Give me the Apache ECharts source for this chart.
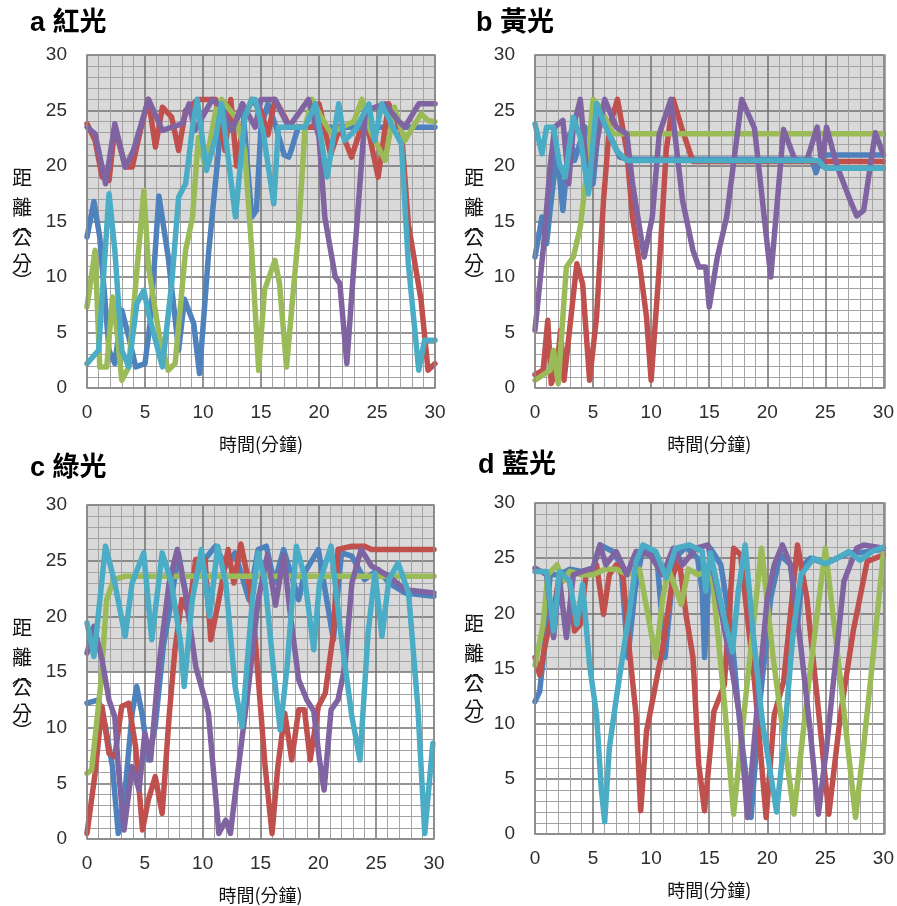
<!DOCTYPE html>
<html>
<head>
<meta charset="utf-8">
<script src="https://cdn.jsdelivr.net/npm/echarts@6/dist/echarts.min.js"></script>
<style>
html,body{margin:0;padding:0;background:#fff;}
#chart{width:897px;height:906px;}
</style>
</head>
<body>
<div id="chart"></div>
<script>
// ---- tick labels ----
const xTicks = [0, 5, 10, 15, 20, 25, 30];
const yTicks = [0, 5, 10, 15, 20, 25, 30];
const seriesNames = ['1', '2', '3', '4', '5'];
const panelTitles = ['a 紅光', 'b 黃光', 'c 綠光', 'd 藍光'];
const xAxisTitle = '時間(分鐘)';
const yAxisTitleChars = ['距', '離', '︵', '公', '分', '︶'];

// ---- panel a (紅光): [minute, distance] ----
const aBlue = [[0,13.6],[0.6,16.8],[1.1,13.6],[1.9,3.4],[2.4,2.2],[3,7],[3.6,4.6],[4.2,1.9],[5,2.2],[5.5,6.4],[6.2,17.3],[7,11.8],[7.9,3.4],[8.4,8],[9.2,5.8],[9.7,1.3],[10.5,12.4],[11.4,22],[12.2,25.6],[12.8,23.8],[13.4,25.6],[14.2,15.4],[14.6,16],[15,23.5],[15.6,25.6],[16.3,23.5],[17,21],[17.4,20.8],[17.6,21.4],[18.2,23.5],[30,23.5]];
const aRed = [[0,23.8],[0.7,22.3],[1.3,19],[1.9,18.7],[2.4,23.5],[3.3,19.9],[3.9,19.9],[4.6,23.2],[5.3,26],[5.9,21.7],[6.5,25.3],[7.3,24.4],[7.9,21.4],[8.5,25],[9.6,26],[11.1,26],[11.9,21.4],[12.4,26],[12.9,20],[13.5,24],[14.2,26],[15,25],[15.6,22.8],[16.2,26],[17,24.5],[17.5,23.5],[19.5,23.5],[20,25.6],[21,21],[21.8,23.5],[22.8,20.8],[23.5,23],[24.3,23],[25.1,19],[26,25.6],[27.1,23.2],[27.7,14.8],[28.8,7.9],[29.4,1.6],[30,2.2]];
const aGreen = [[0,7.3],[0.7,12.4],[1.1,1.9],[1.7,1.9],[2.2,8.2],[2.6,4.9],[3,0.7],[3.6,1.9],[4.2,9.4],[4.9,17.8],[5.3,10.9],[6.2,4.9],[7,1.6],[7.6,2.2],[8.5,12.4],[9.1,15.4],[9.6,22.6],[10.2,19.9],[11.1,25],[11.6,26],[12.8,24.4],[13.6,21.4],[14.2,12.4],[14.8,1.6],[15.3,8.8],[16.2,11.5],[16.6,9.4],[17.2,1.9],[18.2,13.6],[18.8,23.5],[19.4,26],[20.2,24.4],[21,23],[22,23.5],[23,24],[23.7,26],[24.5,23],[25.7,20.5],[26.5,25.3],[27.4,22.3],[28.8,24.7],[29.4,24.1],[30,24]];
const aPurple = [[0,23.5],[0.7,22.9],[1.6,18.4],[2.4,23.8],[3.3,19.9],[4,21.4],[5.3,26],[6.5,23.2],[7.3,23.5],[8.2,23.8],[8.8,25.6],[9.3,23.2],[10.8,26],[11.6,25.3],[12.5,23.2],[13.4,25.6],[14.5,23.5],[15,26],[16.2,26],[17.4,23.5],[19.1,26],[20,22.6],[20.5,15.4],[21.4,10],[21.8,9.4],[22.4,2.2],[23.1,12.4],[24,25],[25.7,25.6],[26.8,24.1],[27.4,23.5],[28.6,25.6],[30,25.6]];
const aCyan = [[0,2.2],[1,3.4],[1.9,17.5],[2.4,12.4],[3,3.4],[3.6,1.9],[4.3,7.6],[4.9,8.8],[5.3,6.7],[6.5,1.9],[7.3,9.4],[7.9,17.2],[8.5,18.4],[9.1,23.5],[9.5,26],[10.3,19.6],[11.1,22.6],[11.6,25.6],[12.8,15.4],[13.6,24.4],[14.2,26],[14.5,26],[15.2,23],[16.1,16.6],[16.5,23.5],[18.8,23.5],[19.7,25.6],[20.7,19],[21.7,25.6],[22.2,22.3],[23.1,23.2],[24.3,25.6],[24.8,22.3],[25.4,25.6],[26.5,23.2],[27.1,22],[27.7,11.2],[28.6,1.6],[29.1,4.3],[30,4.3]];

// ---- panel b (黃光) ----
const bBlue = [[0,11.8],[0.6,15.4],[1,13],[1.3,16],[1.9,21.4],[2.4,16],[3,22.9],[3.4,20.5],[4.3,23.5],[5,18.4],[5.6,25],[6.4,22.9],[7.3,20.8],[8,20.6],[23.8,20.6],[24.2,19.4],[24.7,21],[30,21]];
const bRed = [[0,1.2],[0.7,1.6],[1.1,6.1],[1.4,0.4],[1.9,1.9],[2.2,5.2],[2.5,0.7],[3.6,11.2],[4.1,9.4],[4.7,0.7],[5.3,6.4],[5.9,16.9],[6.4,23.5],[7.1,26],[7.9,21.4],[8.4,15.4],[9,11.2],[9.6,6.4],[10,0.7],[10.7,10.9],[11.3,21.4],[11.9,26],[12.7,23.2],[13.6,20.4],[30,20.4]];
const bGreen = [[0,0.7],[1.3,1.6],[1.6,3.4],[2,0.4],[2.7,10.9],[3.3,11.8],[3.9,14.5],[4.4,19],[5,26],[5.6,25.3],[6.7,22.9],[30,22.9]];
const bPurple = [[0,5.2],[0.7,12.4],[1.3,19.9],[1.7,23.5],[2.4,24.1],[2.9,18.4],[3.3,23.5],[3.9,26],[4.6,17.8],[5.3,22],[6,26],[7,23.5],[7.9,22.9],[8.4,18.4],[9.4,11.8],[10.1,15.4],[10.7,22.9],[11.7,26],[12.7,16.9],[13.6,12.4],[14.1,10.9],[14.7,10.9],[15,7.3],[15.7,11.8],[16.5,15.4],[17.8,26],[18.9,23.4],[20.3,10],[21.4,23.3],[22.4,20.5],[23.4,20.5],[24.3,23.5],[24.7,20],[25.1,23.5],[26,20],[27.1,17],[27.7,15.5],[28.3,16],[29.3,23],[30,21]];
const bCyan = [[0,23.8],[0.6,21.1],[1,23.5],[1.6,23.5],[2.1,20.2],[2.6,19],[3.3,24.4],[3.9,22.6],[4.6,17.5],[5.3,25.6],[6.1,23.5],[7,21.4],[7.9,20.5],[24.4,20.5],[25,19.8],[30,19.8]];

// ---- panel c (綠光) ----
const cBlue = [[0,12.2],[1,12.5],[1.6,10.1],[2.2,6.5],[2.7,0.5],[3.3,4.4],[3.9,11.3],[4.3,13.7],[4.8,11],[5.3,7.1],[5.9,10.1],[6.6,17.3],[7.3,21.5],[7.9,25.7],[8.8,20.6],[9.7,24.5],[11.1,26.3],[12,24.5],[12.8,25.7],[14,21.5],[14.8,26],[15.5,26.3],[16.2,23],[17,26],[18.3,21.5],[18.8,23.9],[20,26],[21.3,17.9],[22,25.7],[22.9,25.4],[24,23.3],[25.2,24.2],[26.1,23],[27.5,22.1],[30,21.8]];
const cRed = [[0,0.5],[0.7,5.9],[1.3,11.9],[1.9,7.7],[2.4,7.4],[3,11.9],[3.6,12.2],[4.2,8.3],[4.8,0.8],[5.3,3.5],[5.9,5.6],[6.5,2.3],[7.1,11],[7.6,17],[8.2,21.5],[8.8,20.3],[9.4,25.1],[10.2,25.1],[10.7,17.9],[11.4,21.5],[12.2,26],[12.7,23],[13.3,26.5],[14,23],[14.5,18.5],[15.4,6.5],[16,0.5],[16.5,6.5],[17.1,11.3],[17.7,7.1],[18.3,11.6],[18.8,11.6],[19.3,7.1],[20,11.9],[20.6,13.1],[21.3,18.5],[21.7,26],[22.9,26.3],[24,26.3],[24.6,26],[30,26]];
const cGreen = [[0,5.9],[0.4,6.2],[1.2,14],[1.7,21.5],[2.3,23.3],[3.3,23.6],[30,23.6]];
const cPurple = [[0,16.7],[0.6,19.1],[1.3,16.1],[1.9,12.5],[2.4,11],[2.7,6.5],[3.2,0.8],[3.9,6.5],[4.5,4.4],[5,9.5],[5.5,7.1],[6.2,15.5],[7.1,23],[7.8,26],[8.5,22.1],[9.4,15.5],[10.2,12.5],[10.5,11.3],[11.4,0.5],[12,1.7],[12.4,0.5],[13.1,6.5],[14,14],[14.8,21.5],[15.6,25.5],[16.3,21],[17,25.5],[17.6,20],[18.3,14.3],[19,12.5],[19.6,11.5],[20.1,7.1],[20.5,4.4],[21.1,11.6],[21.7,12.5],[22.3,15.5],[22.9,23],[23.7,26],[24.6,24.5],[26.1,23.6],[27.5,22.4],[30,22.1]];
const cCyan = [[0,19.4],[0.6,16.4],[1.6,26.3],[2.4,23],[3.3,18.2],[3.9,23],[4.9,25.7],[5.6,17.9],[6.5,25.7],[7.3,23],[8.1,17.6],[8.4,13.7],[9.1,21.5],[9.9,26],[10.6,20],[11.3,26.3],[12,23],[12.8,13.7],[13.4,10.1],[14.3,21.5],[14.8,25.7],[15.4,23],[16.1,15.5],[16.7,9.8],[17.3,15.5],[18.1,26.3],[18.8,23.6],[19.6,17],[20.1,23],[21.1,26.3],[21.9,18.8],[22.9,11],[23.6,7.1],[24.3,18.5],[24.9,23.9],[25.5,18.2],[26.1,23.3],[26.9,24.8],[27.8,22.1],[28.6,11.9],[29.2,0.5],[29.9,8.6]];

// ---- panel d (藍光) ----
const dBlue = [[0,12],[0.4,12.9],[0.9,17.8],[1.3,23.5],[2.1,23.5],[3,24],[4,23.8],[5,24.1],[5.6,26.2],[6.7,25.6],[7.4,24.4],[8,16],[8.6,22],[9.3,26],[10.5,25],[11.2,16],[12,25],[13,26],[14,25],[14.4,22],[14.6,16],[15.1,25.9],[16,24.4],[16.9,18.4],[17.7,9.3],[18.6,1.5],[19.4,12.3],[20.3,21.4],[21.1,25.3],[22,24.4],[22.6,19],[23.1,24.4],[23.7,25],[25,24.5],[26,25],[27,25.5],[28,25.5],[30,25.8]];
const dRed = [[0,16],[0.4,14.4],[1,17.8],[1.6,20.2],[2.1,23.5],[3,22.9],[3.4,18.4],[3.9,19],[4.4,23.5],[5.3,24.4],[5.9,19.9],[6.4,23.5],[7,24.4],[7.6,23.2],[8.1,16.9],[8.7,10.8],[9.1,2.1],[9.6,9.3],[10.1,12],[11,16.9],[11.9,23.5],[12.4,25],[13,19.9],[13.6,16],[14.1,6.3],[14.6,2.1],[15.4,11.1],[16.3,13.5],[17.1,25.9],[17.7,25.3],[18.9,13.8],[19.9,1.5],[20.6,10.8],[21.4,13.8],[22.6,26.2],[23.4,21.4],[24.3,12.3],[25.3,1.8],[26.3,10.8],[27.4,18.4],[28.6,24.7],[30,25.3]];
const dGreen = [[0,15.3],[0.7,19],[1.1,23.5],[1.9,24.4],[2.4,22.9],[3,23.8],[3.9,23.5],[5,23.5],[6,24],[7,24],[8,23.5],[9,24],[10.4,16],[11,21.4],[11.5,24],[12.6,20.8],[13.2,24],[14,23.5],[15.2,24],[16.3,12],[17.1,1.8],[18.3,14],[19.5,25.9],[20.5,16],[22.3,1.8],[23.6,14],[25,25.9],[26.3,14],[27.6,1.5],[28.3,8],[29,15],[30,25.5]];
const dPurple = [[0,24.1],[1,23.5],[1.6,17.8],[2.1,23.2],[2.7,17.8],[3.3,23.5],[4.1,23.8],[5,24.1],[5.6,26.2],[6.1,24.4],[7,25.6],[7.9,23.5],[8.7,25.6],[9.9,25.3],[11,23.5],[11.9,25.9],[12.7,24.4],[13.9,25.9],[14.9,26.2],[15.7,22],[16.9,15.3],[17.6,10.8],[18.3,1.5],[19.2,12.3],[20,21.4],[20.6,24.4],[21.3,26.2],[22,24.4],[22.9,16.9],[23.7,9.3],[24.4,1.8],[25.1,7.8],[26,16.9],[26.6,22.9],[27.7,25.9],[28.3,26.2],[30,25.9]];
const dCyan = [[0,23.8],[1,23.8],[1.6,18.4],[2.1,23.8],[3,22.9],[3.6,19],[4.1,22.6],[4.7,15.3],[5.3,10.8],[5.7,4.2],[6,1.1],[6.4,7.8],[7,12.3],[7.7,17.2],[8.1,19.9],[8.7,24.7],[9.3,26.2],[10.4,25.6],[11.3,23.2],[12.1,25.9],[13.3,26.2],[14.4,25.6],[14.7,22],[15.1,25.5],[16.2,20],[17,16.5],[17.5,22],[18.1,26.2],[18.8,18],[19.6,10],[20.8,2],[21.4,8],[22.2,18],[22.9,23.5],[24,25],[25,24.5],[26,25],[27,25.6],[28,24.8],[29,25.6],[30,26]];

const panelData = [
  [aBlue, aRed, aGreen, aPurple, aCyan],
  [bBlue, bRed, bGreen, bPurple, bCyan],
  [cBlue, cRed, cGreen, cPurple, cCyan],
  [dBlue, dRed, dGreen, dPurple, dCyan]
];

// ---- layout / style ----
const colors = ['#4F81BD', '#C0504D', '#9BBB59', '#8064A2', '#4BACC6'];
const grids = [
  {left: 87, top: 55, width: 348, height: 333},
  {left: 535, top: 55, width: 350, height: 333},
  {left: 87, top: 505, width: 347, height: 334},
  {left: 535, top: 503, width: 350, height: 331}
];
const titlePos = [[30, 25], [476, 25], [30, 470], [478, 467]];
const yTitleX = [22, 474, 22, 474];
const yTitleTop = [177, 177, 627, 623];
const yTitleOffsets = [0, 30, 48, 60, 86, 104];

const CJK = "'Noto Sans CJK TC','Noto Sans CJK SC',sans-serif";
const NUM = "'Liberation Sans','DejaVu Sans',sans-serif";

const chart = echarts.init(document.getElementById('chart'), null, {renderer: 'canvas'});

const tickStep = xTicks[1] - xTicks[0];
const yStep = yTicks[1] - yTicks[0];

const xAxes = [], yAxes = [], series = [], graphics = [];
grids.forEach((g, i) => {
  xAxes.push({
    type: 'value', gridIndex: i,
    min: xTicks[0], max: xTicks[xTicks.length - 1], interval: tickStep,
    name: xAxisTitle, nameLocation: 'middle', nameGap: 47,
    nameTextStyle: {fontFamily: CJK, fontSize: 18, color: '#111'},
    axisLine: {show: false}, axisTick: {show: false},
    axisLabel: {fontFamily: NUM, fontSize: 19, color: '#2e2e2e', margin: 15},
    splitLine: {show: true, lineStyle: {color: '#707070', width: 1.5}},
    minorTick: {show: false, splitNumber: 5},
    minorSplitLine: {show: true, lineStyle: {color: '#a3a3a3', width: 1}}
  });
  yAxes.push({
    type: 'value', gridIndex: i,
    min: yTicks[0], max: yTicks[yTicks.length - 1], interval: yStep,
    axisLine: {show: false}, axisTick: {show: false},
    axisLabel: {fontFamily: NUM, fontSize: 19, color: '#2e2e2e', margin: 20},
    splitLine: {show: true, lineStyle: {color: '#707070', width: 1.5}},
    minorTick: {show: false, splitNumber: 5},
    minorSplitLine: {show: true, lineStyle: {color: '#a3a3a3', width: 1}},
    splitArea: {show: true, areaStyle: {color: ['#ffffff', '#ffffff', '#ffffff', '#d9d9d9', '#d9d9d9', '#d9d9d9']}}
  });
  panelData[i].forEach((d, k) => {
    series.push({
      type: 'line', name: seriesNames[k], xAxisIndex: i, yAxisIndex: i,
      data: d, showSymbol: false, symbol: 'none', smooth: false,
      lineStyle: {color: colors[k], width: 5.5, join: 'round', cap: 'round'},
      itemStyle: {color: colors[k]},
      animation: false, silent: true, z: 3
    });
  });
  graphics.push({
    type: 'rect', shape: {x: g.left, y: g.top, width: g.width, height: g.height},
    style: {fill: null, stroke: '#8c8c8c', lineWidth: 1.5}, z: 10, silent: true
  });
  graphics.push({
    type: 'text', left: titlePos[i][0], top: titlePos[i][1] - 15,
    style: {text: panelTitles[i], fontFamily: "'Liberation Sans'," + CJK, fontSize: 27, fontWeight: 'bold', fill: '#000'},
    z: 10
  });
  yAxisTitleChars.forEach((ch, j) => {
    graphics.push({
      type: 'text', x: yTitleX[i], y: yTitleTop[i] + yTitleOffsets[j],
      style: {text: ch, fontFamily: CJK, fontSize: 20, fill: '#111', align: 'center', verticalAlign: 'middle'},
      z: 10
    });
  });
});

chart.setOption({
  animation: false,
  backgroundColor: '#ffffff',
  grid: grids.map(g => Object.assign({containLabel: false}, g)),
  xAxis: xAxes,
  yAxis: yAxes,
  series: series,
  graphic: graphics
});
</script>
</body>
</html>
